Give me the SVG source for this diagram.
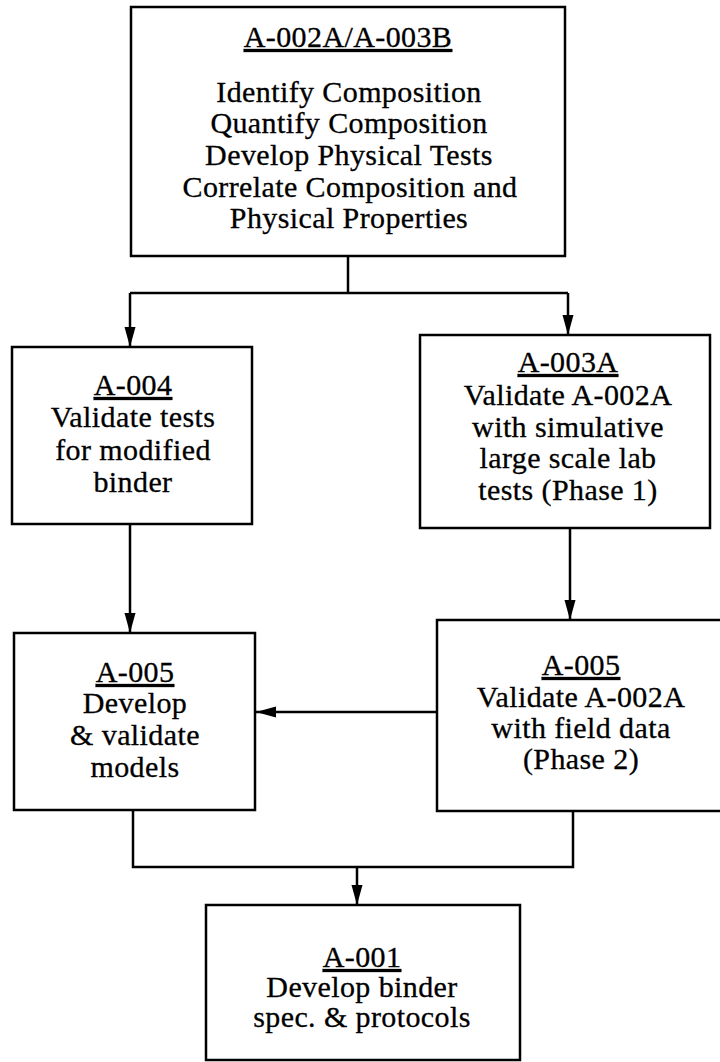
<svg xmlns="http://www.w3.org/2000/svg" width="720" height="1062" viewBox="0 0 720 1062">
  <style>
    .box { fill: #fff; stroke: #000; stroke-width: 2.5; }
    .wire { fill: none; stroke: #000; stroke-width: 2.5; stroke-linejoin: miter; }
    text { font-family: "Liberation Serif", "Times New Roman", serif; font-size: 30px; letter-spacing: 0.4px; fill: #000; stroke: #000; stroke-width: 0.3; text-anchor: middle; }
    .id { text-decoration: underline; }
  </style>
  <defs>
    <marker id="arrow" markerUnits="userSpaceOnUse" markerWidth="20" markerHeight="12" refX="20" refY="6" orient="auto">
      <path d="M0,0.5 L20,6 L0,11.5 Z" fill="#000"/>
    </marker>
  </defs>
  <rect width="720" height="1062" fill="#fff"/>

  <!-- connectors -->
  <g id="connectors">
    <polyline class="wire" points="348,256 348,293"/>
    <polyline class="wire" points="130,293 568,293"/>
    <polyline class="wire" points="130,293 130,347" marker-end="url(#arrow)"/>
    <polyline class="wire" points="568,293 568,335" marker-end="url(#arrow)"/>
    <polyline class="wire" points="130,524 130,633" marker-end="url(#arrow)"/>
    <polyline class="wire" points="570,528 570,620" marker-end="url(#arrow)"/>
    <polyline class="wire" points="437,712 256,712" marker-end="url(#arrow)"/>
    <polyline class="wire" points="133,810 133,867 573,867 573,811"/>
    <polyline class="wire" points="357,867 357,905" marker-end="url(#arrow)"/>
  </g>

  <!-- A-002A/A-003B -->
  <g id="node-a002a-a003b">
    <rect class="box" x="131" y="7" width="434" height="249"/>
    <text x="348" y="47" class="id">A-002A/A-003B</text>
    <text x="349" y="102">Identify Composition</text>
    <text x="349" y="133">Quantify Composition</text>
    <text x="349" y="165">Develop Physical Tests</text>
    <text x="350" y="197">Correlate Composition and</text>
    <text x="349" y="228">Physical Properties</text>
  </g>

  <!-- A-004 -->
  <g id="node-a004">
    <rect class="box" x="12" y="347" width="240" height="177"/>
    <text x="133" y="395" class="id">A-004</text>
    <text x="133" y="427">Validate tests</text>
    <text x="133" y="460">for modified</text>
    <text x="133" y="492">binder</text>
  </g>

  <!-- A-003A -->
  <g id="node-a003a">
    <rect class="box" x="420" y="335" width="290" height="193"/>
    <text x="568" y="372" class="id">A-003A</text>
    <text x="568" y="405">Validate A-002A</text>
    <text x="568" y="437">with simulative</text>
    <text x="568" y="468">large scale lab</text>
    <text x="568" y="500">tests (Phase 1)</text>
  </g>

  <!-- A-005 (models) -->
  <g id="node-a005-models">
    <rect class="box" x="14" y="633" width="241" height="177"/>
    <text x="135" y="682" class="id">A-005</text>
    <text x="135" y="713">Develop</text>
    <text x="135" y="745">&amp; validate</text>
    <text x="135" y="777">models</text>
  </g>

  <!-- A-005 (field data) -->
  <g id="node-a005-field">
    <rect class="box" x="437" y="620" width="293" height="191"/>
    <text x="581" y="675" class="id">A-005</text>
    <text x="581" y="707">Validate A-002A</text>
    <text x="581" y="738">with field data</text>
    <text x="581" y="769">(Phase 2)</text>
  </g>

  <!-- A-001 -->
  <g id="node-a001">
    <rect class="box" x="206" y="905" width="314" height="155"/>
    <text x="362" y="967" class="id">A-001</text>
    <text x="362" y="997">Develop binder</text>
    <text x="362" y="1027">spec. &amp; protocols</text>
  </g>
</svg>
